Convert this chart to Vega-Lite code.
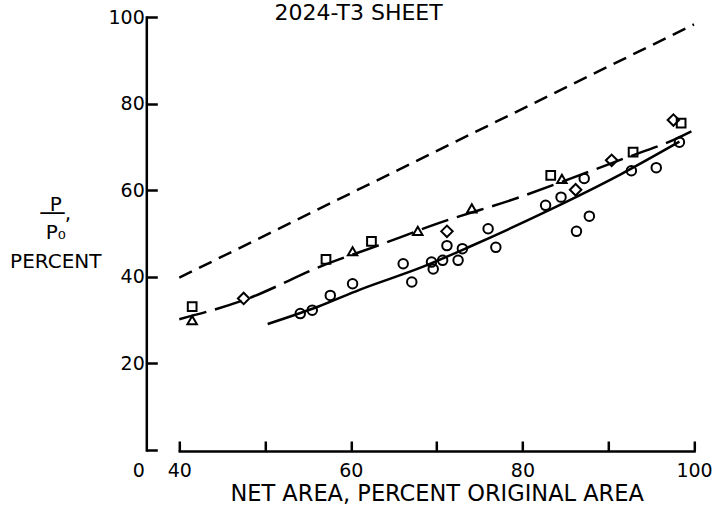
{
  "$schema": "https://vega.github.io/schema/vega-lite/v6.json",
  "width": 514.7,
  "height": 433,
  "autosize": {"type": "none"},
  "padding": {"left": 179.3, "top": 17, "right": 22, "bottom": 64},
  "background": "white",
  "title": {
    "text": "2024-T3 SHEET",
    "font": "DejaVu Sans",
    "fontSize": 22,
    "fontWeight": "normal",
    "color": "black",
    "anchor": "middle",
    "frame": "group",
    "baseline": "alphabetic",
    "offset": 0,
    "dy": 34,
    "dx": -78
  },
  "config": {
    "view": {"stroke": null},
    "axis": {
      "grid": false,
      "domainColor": "black",
      "tickColor": "black",
      "labelColor": "black",
      "titleColor": "black",
      "labelFont": "DejaVu Sans",
      "titleFont": "DejaVu Sans",
      "labelFontSize": 19,
      "titleFontSize": 20,
      "titleFontWeight": "normal",
      "domainWidth": 2.5,
      "tickWidth": 2.5,
      "domainCap": "square"
    }
  },
  "datasets": {
    "ref": [
      {"area": 40, "p": 39.8},
      {"area": 100, "p": 98.3}
    ],
    "upper": [
      {"area": 40, "p": 30.2},
      {"area": 47.5, "p": 34.6},
      {"area": 57, "p": 42.8},
      {"area": 63, "p": 47.1},
      {"area": 70.4, "p": 52.5},
      {"area": 79.7, "p": 58.4},
      {"area": 85.9, "p": 62.9},
      {"area": 91.4, "p": 67.0},
      {"area": 97.7, "p": 71.7},
      {"area": 100, "p": 73.9}
    ],
    "lower": [
      {"area": 50.3, "p": 29.1},
      {"area": 56.3, "p": 33.2},
      {"area": 61, "p": 37.0},
      {"area": 68.5, "p": 42.4},
      {"area": 73.9, "p": 47.0},
      {"area": 82.8, "p": 55.1},
      {"area": 91.4, "p": 63.6},
      {"area": 98.3, "p": 71.2}
    ],
    "points": [
      {"area": 41.5, "p": 33.1, "series": "B"},
      {"area": 57.1, "p": 44.0, "series": "B"},
      {"area": 62.4, "p": 48.2, "series": "B"},
      {"area": 83.3, "p": 63.4, "series": "B"},
      {"area": 92.9, "p": 68.8, "series": "B"},
      {"area": 98.5, "p": 75.5, "series": "B"},
      {"area": 41.5, "p": 30.0, "series": "C"},
      {"area": 60.2, "p": 45.9, "series": "C"},
      {"area": 67.8, "p": 50.6, "series": "C"},
      {"area": 74.1, "p": 55.8, "series": "C"},
      {"area": 84.6, "p": 62.6, "series": "C"},
      {"area": 47.5, "p": 35.0, "series": "D"},
      {"area": 71.2, "p": 50.5, "series": "D"},
      {"area": 86.2, "p": 60.1, "series": "D"},
      {"area": 90.4, "p": 66.9, "series": "D"},
      {"area": 97.6, "p": 76.2, "series": "D"},
      {"area": 54.1, "p": 31.5, "series": "A"},
      {"area": 55.5, "p": 32.3, "series": "A"},
      {"area": 57.6, "p": 35.7, "series": "A"},
      {"area": 60.2, "p": 38.4, "series": "A"},
      {"area": 66.1, "p": 43.0, "series": "A"},
      {"area": 67.1, "p": 38.8, "series": "A"},
      {"area": 69.4, "p": 43.4, "series": "A"},
      {"area": 69.6, "p": 41.8, "series": "A"},
      {"area": 70.7, "p": 43.8, "series": "A"},
      {"area": 71.2, "p": 47.2, "series": "A"},
      {"area": 72.5, "p": 43.8, "series": "A"},
      {"area": 73.0, "p": 46.5, "series": "A"},
      {"area": 76.0, "p": 51.1, "series": "A"},
      {"area": 76.9, "p": 46.8, "series": "A"},
      {"area": 82.7, "p": 56.5, "series": "A"},
      {"area": 84.5, "p": 58.4, "series": "A"},
      {"area": 86.3, "p": 50.5, "series": "A"},
      {"area": 87.2, "p": 62.7, "series": "A"},
      {"area": 87.8, "p": 54.0, "series": "A"},
      {"area": 92.7, "p": 64.5, "series": "A"},
      {"area": 95.6, "p": 65.2, "series": "A"},
      {"area": 98.3, "p": 71.1, "series": "A"}
    ]
  },
  "encoding": {
    "x": {
      "field": "area",
      "type": "quantitative",
      "scale": {"domain": [40, 100], "nice": false, "zero": false},
      "axis": {
        "values": [40, 50, 60, 70, 80, 90, 100],
        "labelExpr": "datum.value % 20 == 0 ? datum.label : ''",
        "tickSize": -10,
        "labelPadding": 20,
        "labelFlush": false,
        "labelOverlap": false,
        "offset": 1,
        "title": "NET AREA, PERCENT ORIGINAL AREA",
        "titleY": 49,
        "titleBaseline": "alphabetic",
        "titleFontSize": 22.5
      }
    },
    "y": {
      "field": "p",
      "type": "quantitative",
      "scale": {"domain": [0, 100], "nice": false},
      "axis": {
        "values": [0, 20, 40, 60, 80, 100],
        "offset": 33,
        "tickSize": -11,
        "labelPadding": 13,
        "labelOverlap": false,
        "labelFlush": false,
        "labelOffset": {"condition": {"test": "datum.value == 0", "value": 20}, "value": 0},
        "title": ["P", "\u00a0\u2500\u2500,", "\u200b", "P\u2080", "\u200b", "\u200b", "PERCENT"],
        "titleAngle": 0,
        "titleAlign": "center",
        "titleBaseline": "alphabetic",
        "titleX": -91,
        "titleY": 193,
        "titleLineHeight": 9.5,
        "titleFontSize": 20
      }
    }
  },
  "layer": [
    {
      "data": {"name": "ref"},
      "mark": {"type": "line", "color": "black", "strokeWidth": 2.5, "strokeDash": [14, 8]}
    },
    {
      "data": {"name": "upper"},
      "mark": {"type": "line", "color": "black", "strokeWidth": 2.5, "strokeDash": [28, 9], "interpolate": "monotone"}
    },
    {
      "data": {"name": "lower"},
      "mark": {"type": "line", "color": "black", "strokeWidth": 2.5, "interpolate": "monotone"}
    },
    {
      "data": {"name": "points"},
      "transform": [{"filter": "datum.series == 'A'"}],
      "mark": {"type": "point", "shape": "circle", "size": 90, "filled": false, "color": "black", "strokeWidth": 2, "opacity": 1}
    },
    {
      "data": {"name": "points"},
      "transform": [{"filter": "datum.series == 'B'"}],
      "mark": {"type": "point", "shape": "square", "size": 76, "filled": false, "color": "black", "strokeWidth": 2, "opacity": 1}
    },
    {
      "data": {"name": "points"},
      "transform": [{"filter": "datum.series == 'C'"}],
      "mark": {"type": "point", "shape": "triangle-up", "size": 90, "filled": false, "color": "black", "strokeWidth": 2, "opacity": 1}
    },
    {
      "data": {"name": "points"},
      "transform": [{"filter": "datum.series == 'D'"}],
      "mark": {"type": "point", "shape": "diamond", "size": 132, "filled": false, "color": "black", "strokeWidth": 2, "opacity": 1}
    }
  ]
}
